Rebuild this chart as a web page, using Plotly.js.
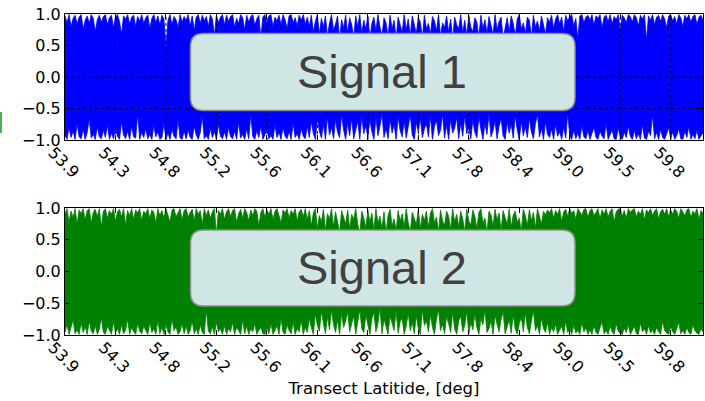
<!DOCTYPE html>
<html>
<head>
<meta charset="utf-8">
<script src="https://cdn.plot.ly/plotly-3.0.1.min.js"></script>
<style>html,body{margin:0;padding:0;background:#fff;}#chart{width:705px;height:401px;}</style>
</head>
<body>
<div id="chart"></div>
<script>
// ---- data ----
var tickLabels = ['53.9','54.3','54.8','55.2','55.6','56.1','56.6','57.1','57.8','58.4','59.0','59.5','59.8'];
var samplesPerTick = 25;
var panelLabels = ['Signal 1', 'Signal 2'];
var xTitle = 'Transect Latitide, [deg]';
var yTickVals = [-1, -0.5, 0, 0.5, 1];
var yTickText = ['\u22121.0', '\u22120.5', '0.0', '0.5', '1.0'];

// upper / lower excursion of each signal, per sample
var signal1Upper = [
0.97,0.86,0.99,0.8,0.93,0.98,0.84,0.95,0.99,0.76,0.9,0.97,0.85,0.99,0.93,0.72,0.91,0.98,0.87,0.96,
0.99,0.83,0.94,0.98,0.78,0.95,0.99,0.88,0.68,0.97,0.92,0.99,0.84,0.95,0.98,0.8,0.96,0.89,0.99,0.85,
0.94,0.98,0.77,0.93,0.99,0.86,0.97,0.82,0.98,0.92,0.45,0.9,0.99,0.83,0.96,0.91,0.79,0.99,0.87,0.96,
0.9,0.99,0.81,0.97,0.74,0.95,0.99,0.85,0.98,0.89,0.96,0.8,0.99,0.92,0.66,0.98,0.86,0.95,0.99,0.83,
0.98,0.88,0.96,0.99,0.79,0.93,0.85,0.99,0.94,0.75,0.98,0.87,0.96,0.99,0.82,0.92,0.98,0.62,0.95,0.99,
0.86,0.97,0.99,0.8,0.95,0.89,0.98,0.83,0.99,0.91,0.77,0.97,0.99,0.86,0.94,0.81,0.98,0.9,0.99,0.84,
0.95,0.8,0.98,0.72,0.88,0.99,0.68,0.93,0.79,0.97,0.64,0.86,0.99,0.74,0.84,0.97,0.6,0.91,0.78,0.98,
0.7,0.94,0.83,0.63,0.97,0.8,0.99,0.69,0.9,0.76,0.97,0.62,0.85,0.95,0.73,0.99,0.79,0.66,0.94,0.86,
0.64,0.98,0.77,0.9,0.6,0.95,0.83,0.71,0.99,0.75,0.92,0.66,0.97,0.8,0.69,0.94,0.87,0.62,0.98,0.76,
0.85,0.68,0.96,0.89,0.73,0.99,0.65,0.86,0.78,0.97,0.71,0.92,0.6,0.95,0.83,0.76,0.99,0.7,0.9,0.66,
0.97,0.79,0.72,0.94,0.87,0.63,0.98,0.77,0.91,0.69,0.96,0.82,0.67,0.99,0.75,0.88,0.95,0.61,0.8,0.94,
0.72,0.97,0.85,0.65,0.92,0.99,0.76,0.86,0.69,0.95,0.9,0.64,0.98,0.79,0.89,0.73,0.97,0.84,0.68,0.94,
0.87,0.98,0.77,0.92,0.99,0.84,0.95,0.72,0.98,0.89,0.96,0.99,0.8,0.93,0.6,0.97,0.99,0.86,0.95,0.98,
0.9,0.99,0.82,0.97,0.93,0.99,0.78,0.95,0.98,0.88,0.99,0.84,0.96,0.91,0.99,0.74,0.98,0.94,0.86,0.99,
0.96,0.87,0.99,0.94,0.81,0.98,0.92,0.99,0.58,0.97,0.9,0.99,0.83,0.95,0.98,0.88,0.99,0.92,0.78,0.97,
0.99,0.89,0.96,0.84,0.99,0.94,0.8,0.98,0.92,0.99,0.87,0.96,0.99,0.83,0.95,0.98,0.9
];
var signal1Lower = [
-0.93,-0.99,-0.8,-0.96,-0.86,-0.99,-0.74,-0.95,-0.98,-0.83,-0.99,-0.88,-0.66,-0.97,-0.91,-0.99,-0.79,-0.95,-0.98,-0.84,
-0.96,-0.76,-0.99,-0.89,-0.98,-0.82,-0.94,-0.99,-0.71,-0.92,-0.98,-0.86,-0.99,-0.78,-0.95,-0.97,-0.58,-0.99,-0.88,-0.96,
-0.82,-0.98,-0.91,-0.99,-0.77,-0.95,-0.87,-0.99,-0.96,-0.74,-0.98,-0.89,-0.99,-0.83,-0.94,-0.98,-0.68,-0.97,-0.99,-0.86,
-0.98,-0.84,-0.96,-0.99,-0.78,-0.92,-0.99,-0.88,-0.62,-0.98,-0.93,-0.99,-0.81,-0.96,-0.86,-0.99,-0.75,-0.94,-0.98,-0.87,
-0.99,-0.8,-0.95,-0.98,-0.86,-0.99,-0.72,-0.97,-0.91,-0.99,-0.82,-0.98,-0.6,-0.94,-0.99,-0.85,-0.96,-0.78,-0.99,-0.9,
-0.84,-0.98,-0.93,-0.99,-0.76,-0.96,-0.88,-0.99,-0.8,-0.94,-0.98,-0.86,-0.99,-0.73,-0.96,-0.9,-0.99,-0.82,-0.94,-0.98,
-0.78,-0.96,-0.7,-0.9,-0.99,-0.66,-0.86,-0.97,-0.75,-0.99,-0.63,-0.92,-0.8,-0.98,-0.68,-0.88,-0.96,-0.6,-0.84,-0.99,
-0.73,-0.93,-0.65,-0.98,-0.82,-0.7,-0.99,-0.62,-0.9,-0.77,-0.96,-0.68,-0.87,-0.99,-0.64,-0.93,-0.78,-0.58,-0.96,-0.81,
-0.98,-0.67,-0.89,-0.75,-0.99,-0.63,-0.85,-0.95,-0.7,-0.97,-0.79,-0.6,-0.92,-0.99,-0.72,-0.87,-0.66,-0.96,-0.82,-0.74,
-0.95,-0.62,-0.99,-0.78,-0.69,-0.93,-0.84,-0.59,-0.97,-0.76,-0.99,-0.67,-0.89,-0.81,-0.64,-0.98,-0.73,-0.94,-0.61,-0.9,
-0.8,-0.98,-0.68,-0.88,-0.96,-0.63,-0.83,-0.99,-0.74,-0.91,-0.58,-0.95,-0.85,-0.7,-0.98,-0.78,-0.66,-0.93,-0.99,-0.72,
-0.89,-0.75,-0.97,-0.61,-0.84,-0.99,-0.7,-0.93,-0.79,-0.96,-0.65,-0.87,-0.98,-0.74,-0.6,-0.95,-0.82,-0.99,-0.71,-0.91,
-0.96,-0.82,-0.99,-0.75,-0.94,-0.87,-0.99,-0.79,-0.97,-0.58,-0.92,-0.99,-0.84,-0.98,-0.89,-0.99,-0.77,-0.95,-0.98,-0.85,
-0.99,-0.9,-0.8,-0.96,-0.99,-0.86,-0.94,-0.98,-0.74,-0.99,-0.91,-0.84,-0.98,-0.99,-0.81,-0.95,-0.99,-0.88,-0.96,-0.78,
-0.94,-0.99,-0.85,-0.98,-0.9,-0.99,-0.76,-0.97,-0.99,-0.86,-0.93,-0.6,-0.98,-0.88,-0.99,-0.83,-0.96,-0.99,-0.9,-0.8,
-0.98,-0.87,-0.99,-0.93,-0.82,-0.98,-0.99,-0.86,-0.96,-0.78,-0.99,-0.91,-0.98,-0.84,-0.99,-0.94,-0.88
];
var signal2Upper = [
0.9,0.99,0.78,0.95,0.85,0.99,0.74,0.97,0.91,0.99,0.81,0.96,0.99,0.76,0.93,0.98,0.86,0.99,0.7,0.95,
0.99,0.84,0.96,0.9,0.99,0.79,0.94,0.98,0.86,0.99,0.73,0.96,0.88,0.99,0.82,0.97,0.92,0.99,0.8,0.95,
0.91,0.99,0.83,0.97,0.93,0.76,0.99,0.88,0.96,0.84,0.99,0.9,0.78,0.97,0.99,0.86,0.94,0.99,0.81,0.96,
0.99,0.86,0.93,0.98,0.8,0.99,0.9,0.96,0.74,0.99,0.88,0.97,0.84,0.94,0.99,0.58,0.96,0.9,0.99,0.82,
0.94,0.99,0.86,0.96,0.99,0.77,0.91,0.98,0.84,0.99,0.93,0.8,0.97,0.88,0.99,0.95,0.72,0.93,0.99,0.86,
0.97,0.9,0.99,0.82,0.95,0.99,0.88,0.76,0.97,0.92,0.99,0.84,0.96,0.9,0.99,0.8,0.94,0.98,0.86,0.99,
0.82,0.96,0.72,0.92,0.99,0.68,0.88,0.78,0.98,0.64,0.91,0.83,0.99,0.7,0.94,0.8,0.62,0.96,0.86,0.75,
0.97,0.67,0.9,0.82,0.99,0.74,0.6,0.95,0.84,0.69,0.97,0.78,0.92,0.65,0.99,0.76,0.87,0.68,0.94,0.6,
0.88,0.98,0.72,0.83,0.64,0.96,0.79,0.91,0.7,0.99,0.77,0.62,0.93,0.85,0.74,0.98,0.67,0.9,0.8,0.95,
0.69,0.92,0.99,0.76,0.86,0.62,0.97,0.8,0.72,0.95,0.87,0.66,0.99,0.78,0.9,0.7,0.95,0.83,0.63,0.98,
0.8,0.73,0.97,0.87,0.67,0.93,0.99,0.76,0.84,0.61,0.95,0.89,0.71,0.98,0.81,0.92,0.65,0.96,0.85,0.74,
0.99,0.7,0.89,0.95,0.77,0.84,0.63,0.98,0.88,0.73,0.97,0.8,0.93,0.68,0.99,0.86,0.75,0.95,0.89,0.97,
0.92,0.99,0.84,0.96,0.9,0.99,0.79,0.94,0.98,0.87,0.99,0.91,0.96,0.82,0.99,0.94,0.88,0.98,0.99,0.85,
0.96,0.99,0.88,0.93,0.99,0.83,0.97,0.9,0.99,0.86,0.95,0.99,0.78,0.94,0.98,0.99,0.87,0.96,0.84,0.99,
0.93,0.97,0.99,0.86,0.95,0.9,0.99,0.81,0.97,0.93,0.99,0.88,0.95,0.99,0.83,0.94,0.98,0.9,0.99,0.86,
0.97,0.9,0.99,0.95,0.84,0.99,0.93,0.88,0.97,0.99,0.85,0.95,0.91,0.99,0.82,0.96,0.92
];
var signal2Lower = [
-0.96,-0.83,-0.99,-0.89,-0.76,-0.98,-0.92,-0.99,-0.81,-0.96,-0.87,-0.99,-0.78,-0.94,-0.98,-0.85,-0.99,-0.91,-0.72,-0.96,
-0.99,-0.86,-0.93,-0.99,-0.79,-0.96,-0.9,-0.99,-0.84,-0.98,-0.93,-0.75,-0.99,-0.88,-0.95,-0.99,-0.82,-0.94,-0.98,-0.86,
-0.93,-0.99,-0.8,-0.96,-0.9,-0.99,-0.77,-0.98,-0.88,-0.99,-0.84,-0.95,-0.99,-0.74,-0.93,-0.87,-0.99,-0.95,-0.82,-0.98,
-0.86,-0.99,-0.93,-0.78,-0.98,-0.9,-0.99,-0.84,-0.96,-0.99,-0.6,-0.94,-0.98,-0.87,-0.99,-0.8,-0.95,-0.9,-0.99,-0.85,
-0.99,-0.9,-0.95,-0.8,-0.99,-0.88,-0.93,-0.99,-0.76,-0.98,-0.86,-0.99,-0.9,-0.95,-0.82,-0.99,-0.93,-0.88,-0.98,-0.99,
-0.88,-0.98,-0.82,-0.99,-0.93,-0.85,-0.99,-0.74,-0.96,-0.99,-0.84,-0.93,-0.98,-0.8,-0.99,-0.9,-0.95,-0.76,-0.99,-0.88,
-0.96,-0.74,-0.88,-0.99,-0.67,-0.85,-0.94,-0.62,-0.82,-0.98,-0.71,-0.92,-0.6,-0.84,-0.96,-0.76,-0.99,-0.66,-0.88,-0.78,
-0.63,-0.95,-0.82,-0.7,-0.99,-0.77,-0.6,-0.9,-0.96,-0.68,-0.86,-0.99,-0.74,-0.64,-0.95,-0.82,-0.57,-0.98,-0.75,-0.88,
-0.99,-0.7,-0.83,-0.93,-0.61,-0.97,-0.79,-0.73,-0.99,-0.86,-0.65,-0.93,-0.8,-0.98,-0.69,-0.9,-0.99,-0.6,-0.85,-0.77,
-0.95,-0.68,-0.88,-0.99,-0.75,-0.6,-0.93,-0.83,-0.98,-0.71,-0.82,-0.96,-0.64,-0.9,-0.99,-0.78,-0.7,-0.95,-0.85,-0.62,
-0.98,-0.8,-0.92,-0.66,-0.88,-0.99,-0.74,-0.84,-0.6,-0.96,-0.9,-0.77,-0.99,-0.69,-0.83,-0.95,-0.75,-0.63,-0.98,-0.86,
-0.76,-0.97,-0.68,-0.9,-0.99,-0.82,-0.72,-0.95,-0.65,-0.88,-0.98,-0.78,-0.61,-0.93,-0.85,-0.99,-0.73,-0.9,-0.96,-0.8,
-0.99,-0.88,-0.95,-0.83,-0.99,-0.92,-0.86,-0.99,-0.78,-0.96,-0.9,-0.99,-0.84,-0.97,-0.93,-0.99,-0.8,-0.95,-0.88,-0.99,
-0.92,-0.99,-0.85,-0.96,-0.99,-0.88,-0.79,-0.98,-0.93,-0.99,-0.86,-0.95,-0.99,-0.82,-0.94,-0.97,-0.99,-0.89,-0.96,-0.84,
-0.99,-0.93,-0.86,-0.98,-0.99,-0.81,-0.95,-0.9,-0.99,-0.85,-0.97,-0.92,-0.99,-0.88,-0.95,-0.99,-0.78,-0.93,-0.97,-0.99,
-0.87,-0.95,-0.99,-0.9,-0.8,-0.98,-0.93,-0.99,-0.88,-0.96,-0.99,-0.84,-0.93,-0.97,-0.99,-0.9,-0.95
];

// ---- geometry / styling ----
var W = 705, H = 401;
var M = {l: 65, r: 2, t: 14, b: 66};
var PW = W - M.l - M.r, PH = H - M.t - M.b;
function px(x) { return (x - M.l) / PW; }
function py(y) { return (H - M.b - y) / PH; }

function idx(arr) { return arr.map(function (_, i) { return i; }); }
var tickVals = tickLabels.map(function (_, i) { return i * samplesPerTick; });
var xMax = signal1Upper.length - 1;

var font = {family: 'DejaVu Sans, sans-serif', size: 16, color: '#000'};

function xaxisDef(anchor) {
  return {
    anchor: anchor, range: [0, xMax], tickmode: 'array', tickvals: tickVals, ticktext: tickLabels,
    tickangle: 45, ticks: 'inside', ticklen: 5, tickcolor: '#000', mirror: 'ticks',
    showline: true, linecolor: '#000', linewidth: 1, showgrid: false, zeroline: false,
    tickfont: font, ticklabelshift: -12, ticklabelstandoff: -4, automargin: false, fixedrange: true
  };
}
function yaxisDef(anchor, domain) {
  return {
    anchor: anchor, domain: domain, range: [-1, 1], tickmode: 'array', tickvals: yTickVals, ticktext: yTickText,
    ticks: 'inside', ticklen: 5, tickcolor: '#000', mirror: 'ticks', showline: true, linecolor: '#000', linewidth: 1,
    showgrid: false, zeroline: false, tickfont: font, automargin: false, fixedrange: true
  };
}

var topDomain = [py(140), 1];
var botDomain = [0, py(208)];

function band(upper, lower, color, xa, ya) {
  return [
    {x: idx(upper), y: upper, type: 'scatter', mode: 'lines', line: {color: color, width: 0.8}, xaxis: xa, yaxis: ya, hoverinfo: 'skip'},
    {x: idx(lower), y: lower, type: 'scatter', mode: 'lines', line: {color: color, width: 0.8}, fill: 'tonexty', fillcolor: color, xaxis: xa, yaxis: ya, hoverinfo: 'skip'}
  ];
}
var traces = band(signal1Upper, signal1Lower, '#0000ff', 'x', 'y').concat(band(signal2Upper, signal2Lower, '#008000', 'x2', 'y2'));

var shapes = [];
// dotted grid drawn over the first panel
tickVals.slice(1).forEach(function (v) {
  shapes.push({type: 'line', xref: 'x', yref: 'y domain', x0: v, x1: v, y0: 0, y1: 1,
    line: {color: '#000', width: 1, dash: 'dot'}, layer: 'above'});
});
yTickVals.slice(1, -1).forEach(function (v) {
  shapes.push({type: 'line', xref: 'x domain', yref: 'y', x0: 0, x1: 1, y0: v, y1: v,
    line: {color: '#000', width: 1, dash: 'dot'}, layer: 'above'});
});

function roundRect(x0, y0, x1, y1, r) {
  var p = function (x, y) { return px(x).toFixed(5) + ',' + py(y).toFixed(5); };
  return 'M' + p(x0 + r, y0) + ' L' + p(x1 - r, y0) + ' Q' + p(x1, y0) + ' ' + p(x1, y0 + r) +
    ' L' + p(x1, y1 - r) + ' Q' + p(x1, y1) + ' ' + p(x1 - r, y1) +
    ' L' + p(x0 + r, y1) + ' Q' + p(x0, y1) + ' ' + p(x0, y1 - r) +
    ' L' + p(x0, y0 + r) + ' Q' + p(x0, y0) + ' ' + p(x0 + r, y0) + ' Z';
}
var boxes = [[190.5, 33.5, 575, 110.5], [190.5, 230, 575, 306]];
var annotations = [];
boxes.forEach(function (b, i) {
  shapes.push({type: 'path', xref: 'paper', yref: 'paper', path: roundRect(b[0], b[1], b[2], b[3], 13),
    fillcolor: '#d0e6e5', line: {color: '#8c8c8c', width: 1.5}, layer: 'above'});
  annotations.push({xref: 'paper', yref: 'paper', x: px((b[0] + b[2]) / 2 - 1), y: py((b[1] + b[3]) / 2 - 1),
    xanchor: 'center', yanchor: 'middle', showarrow: false, text: panelLabels[i],
    font: {family: 'Liberation Sans, Arial, sans-serif', size: 47, color: '#404040'}});
});
// small green mark at the left edge
shapes.push({type: 'line', xref: 'paper', yref: 'paper', x0: px(1), x1: px(1), y0: py(112), y1: py(133),
  line: {color: '#5aa85a', width: 2}, layer: 'above'});

var xa1 = xaxisDef('y');
var xa2 = xaxisDef('y2');
xa2.title = {text: xTitle, font: {family: 'DejaVu Sans, sans-serif', size: 16.5, color: '#000'}, standoff: 6};

var layout = {
  width: W, height: H, margin: M, showlegend: false,
  paper_bgcolor: '#fff', plot_bgcolor: '#fff',
  xaxis: xa1, yaxis: yaxisDef('x', topDomain),
  xaxis2: xa2, yaxis2: yaxisDef('x2', botDomain),
  shapes: shapes, annotations: annotations
};

Plotly.newPlot('chart', traces, layout, {displayModeBar: false, staticPlot: true});
</script>
</body>
</html>
